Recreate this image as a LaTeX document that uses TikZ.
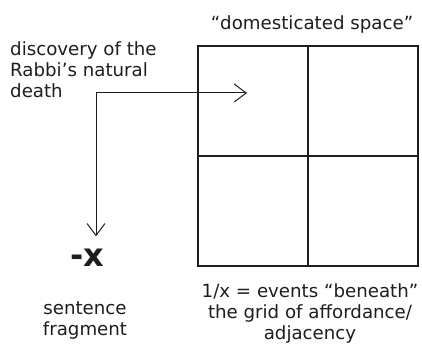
\documentclass[tikz,border=0pt]{standalone}
\usepackage{fontspec}
\setmainfont{DejaVu Sans}
\usetikzlibrary{arrows.meta, positioning}
\definecolor{cink}{HTML}{1E1E1E}
\tikzset{
  every picture/.style={font=\fontsize{18.2}{21}\selectfont, x=1pt, y=-1pt},
  cellgrid/.style={draw=cink, line width=2pt},
  link/.style={draw=cink, line width=1pt, {Straight Barb[length=12pt, width=18pt]}-{Straight Barb[length=12pt, width=18pt]}},
  caption/.style={text=cink, align=center, inner sep=0pt},
  side/.style={text=cink, align=left, inner sep=0pt},
  bigmark/.style={text=cink, font=\fontsize{32}{38}\selectfont\bfseries, inner xsep=0pt, inner ysep=12pt},
}

\begin{document}
\begin{tikzpicture}
  \path[fill=white, use as bounding box] (0,0) rectangle (422,347);
  % the four cells
  \node[cellgrid, minimum size=220pt, inner sep=0pt] (space) at (308,156) {};
  \draw[cellgrid] (space.north) -- (space.south) (space.west) -- (space.east);
  \node[caption, anchor=base] (title) at (312,30) {“domesticated space”};
  \node[side, anchor=north west] (event) at (10,41) {discovery of the\\Rabbi’s natural\\death};
  \node[bigmark, anchor=base] (minusx) at (87,266) {-x};
  % base of a multi-line node = its last line
  \node[caption, anchor=base] (fragment) at (85,335) {sentence\\fragment};
  \node[caption, anchor=base] (events) at (310,339) {1/x = events “beneath”\\the grid of affordance/\\adjacency};
  \coordinate (bend) at (96,93);
  \coordinate (target) at (247,93);
  \draw[link] (bend |- minusx.north) -- (bend) -- (target);
\end{tikzpicture}
\end{document}
